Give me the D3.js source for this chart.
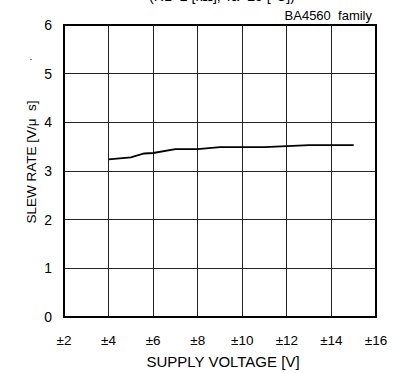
<!DOCTYPE html>
<html><head><meta charset="utf-8">
<script src="https://cdn.jsdelivr.net/npm/d3@7"></script>
<style>body{margin:0;background:#fff}svg{display:block}text{font-family:"Liberation Sans",Arial,sans-serif}</style>
</head><body><svg id="c" width="398" height="373"></svg>
<script>
const voltage = [4, 5, 5.6, 6, 7, 8, 9, 10, 11, 12, 13, 14, 15];
const slewRate = [3.24, 3.28, 3.36, 3.37, 3.45, 3.45, 3.49, 3.49, 3.49, 3.51, 3.53, 3.53, 3.53];
const xTicks = [2, 4, 6, 8, 10, 12, 14, 16];
const yTicks = [0, 1, 2, 3, 4, 5, 6];

const svg = d3.select("#c");
const m = {l: 64, r: 376, t: 25, b: 317};
const x = d3.scaleLinear().domain([2, 16]).range([m.l, m.r]);
const y = d3.scaleLinear().domain([0, 6]).range([m.b, m.t]);

// grid
svg.append("g").selectAll("line").data(xTicks.slice(1, -1)).join("line")
  .attr("x1", d => x(d)).attr("x2", d => x(d)).attr("y1", m.t).attr("y2", m.b)
  .attr("stroke", "#222").attr("stroke-width", 1).attr("shape-rendering", "crispEdges");
svg.append("g").selectAll("line").data(yTicks.slice(1, -1)).join("line")
  .attr("x1", m.l).attr("x2", m.r).attr("y1", d => y(d)).attr("y2", d => y(d))
  .attr("stroke", "#222").attr("stroke-width", 1).attr("shape-rendering", "crispEdges");

// frame
svg.append("rect").attr("x", m.l).attr("y", m.t).attr("width", m.r - m.l).attr("height", m.b - m.t)
  .attr("fill", "none").attr("stroke", "#000").attr("stroke-width", 2);

// tick labels
svg.append("g").selectAll("text").data(xTicks).join("text")
  .attr("x", d => x(d)).attr("y", 345).attr("text-anchor", "middle")
  .attr("font-size", 13.5).text(d => "±" + d);
svg.append("g").selectAll("text").data(yTicks).join("text")
  .attr("x", 52).attr("y", d => y(d) + 5).attr("text-anchor", "end")
  .attr("font-size", 14).text(d => d);

// line
svg.append("path").datum(voltage.map((v, i) => [v, slewRate[i]]))
  .attr("d", d3.line().x(d => x(d[0])).y(d => y(d[1])))
  .attr("fill", "none").attr("stroke", "#000").attr("stroke-width", 1.8);

// labels
svg.append("text").attr("x", 223).attr("y", 367).attr("text-anchor", "middle")
  .attr("font-size", 15).text("SUPPLY VOLTAGE [V]");
svg.append("text").attr("transform", "translate(36,162) rotate(-90)").attr("text-anchor", "middle")
  .attr("font-size", 13.5).attr("xml:space", "preserve").text("SLEW RATE [V/μ  s]");
svg.append("text").attr("x", 31).attr("y", 60).attr("text-anchor", "middle")
  .attr("font-size", 10).text(".");
svg.append("text").attr("x", 372).attr("y", 20).attr("text-anchor", "end")
  .attr("font-size", 13).attr("xml:space", "preserve").text("BA4560  family");
svg.append("text").attr("x", 222).attr("y", 1).attr("text-anchor", "middle")
  .attr("font-size", 14).text("(RL=2 [kΩ], Ta=25 [°C])");
</script></body></html>
